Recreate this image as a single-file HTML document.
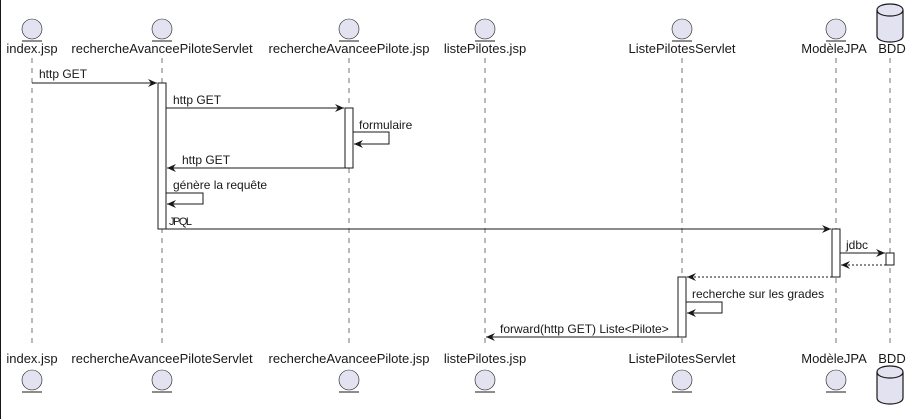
<!DOCTYPE html><html><head><style>body{margin:0;background:#fff}svg{display:block}</style></head><body>
<svg width="914" height="419" xmlns="http://www.w3.org/2000/svg" font-family="Liberation Sans, sans-serif" font-size="13">
<defs><marker id="a" markerWidth="10" markerHeight="8" refX="9" refY="4" orient="auto" markerUnits="userSpaceOnUse"><path d="M0,0 L9,4 L0,8 L3,4 Z" fill="#181818"/></marker></defs>
<line x1="0.5" y1="0" x2="0.5" y2="419" stroke="#181818"/>
<g stroke="#181818" stroke-dasharray="5,5" stroke-width="0.6">
<line x1="32" y1="58" x2="32" y2="346"/><line x1="162" y1="58" x2="162" y2="346"/><line x1="349" y1="58" x2="349" y2="346"/><line x1="485" y1="58" x2="485" y2="346"/><line x1="682" y1="58" x2="682" y2="346"/><line x1="836" y1="58" x2="836" y2="346"/><line x1="890" y1="58" x2="890" y2="346"/></g>
<g fill="#e2e2f0" stroke="#181818" stroke-width="0.6">
<circle cx="32" cy="29" r="10"/><circle cx="162" cy="29" r="10"/><circle cx="349" cy="29" r="10"/><circle cx="485" cy="29" r="10"/><circle cx="682" cy="29" r="10"/><circle cx="836" cy="29" r="10"/>
<circle cx="32" cy="380" r="10"/><circle cx="162" cy="380" r="10"/><circle cx="349" cy="380" r="10"/><circle cx="485" cy="380" r="10"/><circle cx="682" cy="380" r="10"/><circle cx="836" cy="380" r="10"/>
</g>
<g stroke="#181818" stroke-width="1">
<line x1="22" y1="41" x2="42" y2="41"/><line x1="152" y1="41" x2="172" y2="41"/><line x1="339" y1="41" x2="359" y2="41"/><line x1="475" y1="41" x2="495" y2="41"/><line x1="672" y1="41" x2="692" y2="41"/><line x1="826" y1="41" x2="846" y2="41"/>
<line x1="22" y1="392" x2="42" y2="392"/><line x1="152" y1="392" x2="172" y2="392"/><line x1="339" y1="392" x2="359" y2="392"/><line x1="475" y1="392" x2="495" y2="392"/><line x1="672" y1="392" x2="692" y2="392"/><line x1="826" y1="392" x2="846" y2="392"/></g>
<g fill="#e2e2f0" stroke="#181818" stroke-width="1.2">
<path d="M877,10 C877,2 903,2 903,10 L903,36 C903,44 877,44 877,36 Z"/><path d="M877,10 C877,18 903,18 903,10" fill="none"/>
<path d="M877,372 C877,364 903,364 903,372 L903,398 C903,406 877,406 877,398 Z"/><path d="M877,372 C877,380 903,380 903,372" fill="none"/>
</g>
<g fill="#181818" text-anchor="middle">
<text x="32" y="53">index.jsp</text><text x="162" y="53">rechercheAvanceePiloteServlet</text><text x="349" y="53">rechercheAvanceePilote.jsp</text><text x="485" y="53">listePilotes.jsp</text><text x="682" y="53">ListePilotesServlet</text><text x="834" y="53">ModèleJPA</text><text x="892" y="53">BDD</text>
<text x="32" y="363">index.jsp</text><text x="162" y="363">rechercheAvanceePiloteServlet</text><text x="349" y="363">rechercheAvanceePilote.jsp</text><text x="485" y="363">listePilotes.jsp</text><text x="682" y="363">ListePilotesServlet</text><text x="834" y="363">ModèleJPA</text><text x="892" y="363">BDD</text>
</g>
<g fill="#fff" stroke="#181818" stroke-width="1">
<rect x="158" y="83" width="8" height="146"/><rect x="345" y="108" width="8" height="60"/><rect x="832" y="229" width="8" height="48"/><rect x="886" y="253" width="8" height="12"/><rect x="678" y="277" width="8" height="60"/></g>
<g stroke="#181818" stroke-width="1" fill="none" marker-end="url(#a)">
<line x1="32" y1="83" x2="157" y2="83"/><line x1="166" y1="108" x2="344" y2="108"/>
<polyline points="353,132 389,132 389,144 354,144"/>
<line x1="345" y1="168" x2="167" y2="168"/>
<polyline points="166,193 203,193 203,204 167,204"/>
<line x1="166" y1="229" x2="831" y2="229"/><line x1="840" y1="253" x2="885" y2="253"/>
<line x1="886" y1="265" x2="841" y2="265" stroke-dasharray="2,2"/><line x1="832" y1="277" x2="687" y2="277" stroke-dasharray="2,2"/>
<polyline points="686,302 722,302 722,313 687,313"/>
<line x1="678" y1="337" x2="486" y2="337"/></g>
<g fill="#181818" font-size="12">
<text x="39" y="78">http GET</text><text x="173" y="104">http GET</text><text x="359" y="129">formulaire</text><text x="182" y="164">http GET</text><text x="173" y="189">génère la requête</text><text x="169" y="225" letter-spacing="-1.5" font-size="11">JPQL</text><text x="846" y="249">jdbc</text><text x="692" y="298">recherche sur les grades</text><text x="500" y="333">forward(http GET) Liste&lt;Pilote&gt;</text>
</g>
</svg></body></html>
